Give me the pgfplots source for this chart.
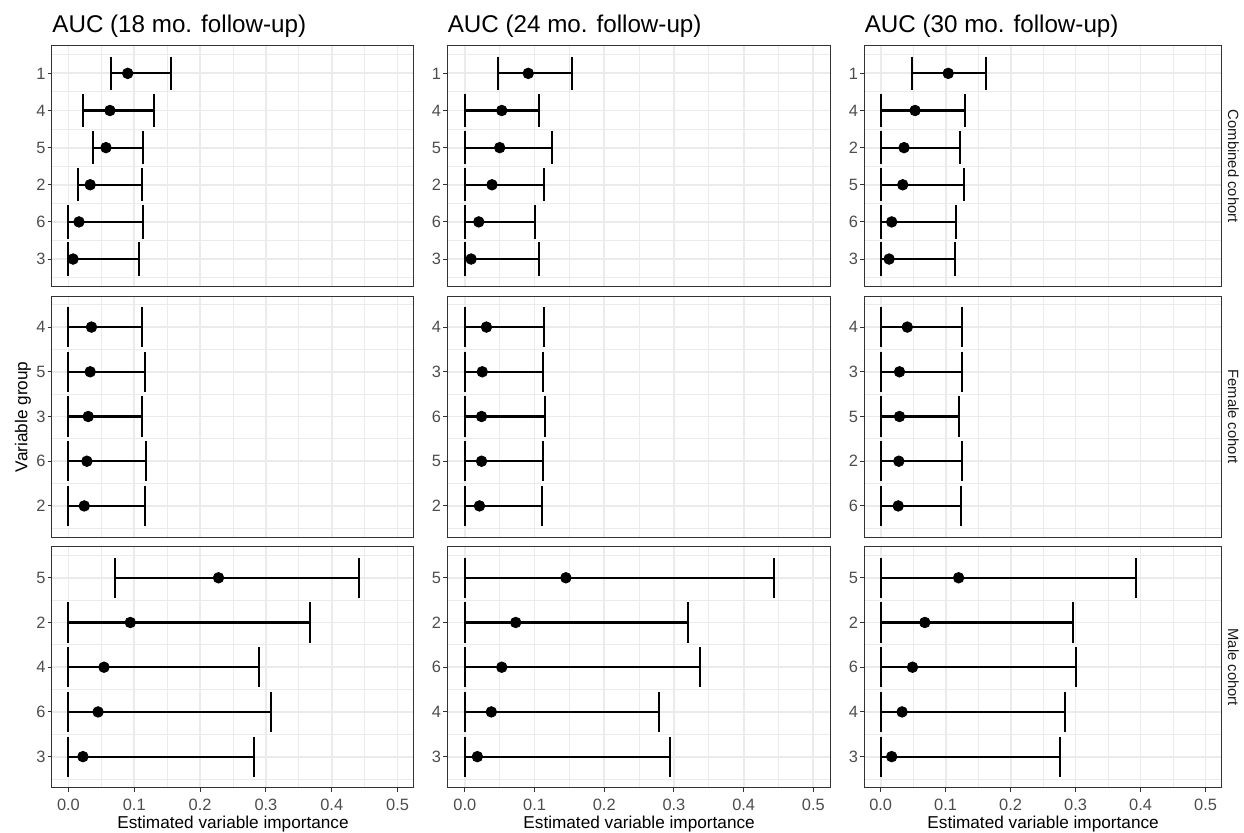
\documentclass[border=0pt]{standalone}
\usepackage{fontspec}
\setmainfont{Liberation Sans}
\usepackage{pgfplots}
\usepackage{pgfplotstable}
\pgfplotsset{compat=1.18}
\definecolor{grey92}{HTML}{EBEBEB}
\definecolor{grey30}{HTML}{4D4D4D}
\definecolor{grey20}{HTML}{333333}
\definecolor{grey10}{HTML}{1A1A1A}

% columns: y est lo hi  (y = position from bottom)
\pgfplotstableread{
y est lo hi
6 0.090 0.065 0.156
5 0.063 0.022 0.130
4 0.057 0.037 0.114
3 0.033 0.015 0.111
2 0.016 0.000 0.113
1 0.007 0.000 0.107
}\tAa
\pgfplotstableread{
y est lo hi
5 0.035 0 0.111
4 0.033 0 0.117
3 0.030 0 0.111
2 0.028 0 0.118
1 0.024 0 0.116
}\tAb
\pgfplotstableread{
y est lo hi
5 0.228 0.070 0.441
4 0.094 0 0.367
3 0.054 0 0.290
2 0.045 0 0.307
1 0.022 0 0.282
}\tAc
\pgfplotstableread{
y est lo hi
6 0.091 0.047 0.154
5 0.053 0 0.107
4 0.050 0 0.125
3 0.039 0 0.114
2 0.020 0 0.101
1 0.009 0 0.106
}\tBa
\pgfplotstableread{
y est lo hi
5 0.031 0 0.114
4 0.025 0 0.112
3 0.024 0 0.115
2 0.024 0 0.112
1 0.021 0 0.111
}\tBb
\pgfplotstableread{
y est lo hi
5 0.145 0 0.443
4 0.073 0 0.320
3 0.053 0 0.338
2 0.038 0 0.278
1 0.018 0 0.294
}\tBc
\pgfplotstableread{
y est lo hi
6 0.104 0.048 0.162
5 0.053 0 0.130
4 0.036 0 0.122
3 0.034 0 0.129
2 0.017 0 0.116
1 0.013 0 0.114
}\tCa
\pgfplotstableread{
y est lo hi
5 0.041 0 0.125
4 0.029 0 0.125
3 0.029 0 0.120
2 0.028 0 0.125
1 0.027 0 0.124
}\tCb
\pgfplotstableread{
y est lo hi
5 0.120 0 0.393
4 0.068 0 0.296
3 0.049 0 0.301
2 0.033 0 0.283
1 0.017 0 0.276
}\tCc

\newcommand{\panelplots}[2]{%
  \addplot[black, only marks, mark=*, mark size=2.65pt,
    error bars/.cd, x dir=both, x explicit, error mark=none,
    error bar style={line width=1.05pt, black}]
    table[x=est, y=y, x error plus expr=\thisrow{hi}-\thisrow{est},
          x error minus expr=\thisrow{est}-\thisrow{lo}] {#1};
  \addplot[black, only marks, mark=|, mark size=#2, mark options={line width=1.0pt}]
    table[x=lo, y=y] {#1};
  \addplot[black, only marks, mark=|, mark size=#2, mark options={line width=1.0pt}]
    table[x=hi, y=y] {#1};
}

\pgfplotsset{
  panel/.style={
    scale only axis, anchor=north west, height=120.5pt,
    xmin=-0.025, xmax=0.525,
    xtick={0,0.1,0.2,0.3,0.4,0.5},
    minor xtick={0.05,0.15,0.25,0.35,0.45},
    grid=both,
    major grid style={grey92, line width=0.9pt},
    minor grid style={grey92, line width=0.45pt},
    axis line style={grey20, line width=0.5pt},
    tick align=outside, major tick length=2.2pt, minor tick length=0pt,
    tick style={grey20, line width=0.5pt},
    xtick pos=bottom, ytick pos=left,
    ticklabel style={font=\fontsize{8.2}{9}\selectfont, text=grey30},
    yticklabel style={inner sep=0pt, xshift=-0.8pt},
    /pgf/number format/.cd, fixed, fixed zerofill, precision=1, assume math mode=true,
  },
  inner/.style={xticklabels={}, xtick style={draw=none}},
  six/.style={ymin=0.255, ymax=6.745, ytick={1,2,3,4,5,6}, minor ytick={0.5,1.5,2.5,3.5,4.5,5.5,6.5}},
  five/.style={ymin=0.305, ymax=5.695, ytick={1,2,3,4,5}, minor ytick={0.5,1.5,2.5,3.5,4.5,5.5}},
}

\begin{document}
\begin{tikzpicture}
\useasboundingbox (0,0) rectangle (622pt,-416pt);

% Column 1
\begin{axis}[panel, six, inner, at={(26pt,-22.85pt)}, width=181pt, yticklabels={3,6,2,5,4,1}]
\panelplots{\tAa}{8.36pt}
\end{axis}
\begin{axis}[panel, five, inner, at={(26pt,-148pt)}, width=181pt, yticklabels={2,6,3,5,4}]
\panelplots{\tAb}{10.06pt}
\end{axis}
\begin{axis}[panel, five, at={(26pt,-273.35pt)}, width=181pt, yticklabels={3,6,4,2,5}]
\panelplots{\tAc}{10.06pt}
\end{axis}

% Column 2
\begin{axis}[panel, six, inner, at={(223.7pt,-22.85pt)}, width=191.7pt, yticklabels={3,6,2,5,4,1}]
\panelplots{\tBa}{8.36pt}
\end{axis}
\begin{axis}[panel, five, inner, at={(223.7pt,-148pt)}, width=191.7pt, yticklabels={2,5,6,3,4}]
\panelplots{\tBb}{10.06pt}
\end{axis}
\begin{axis}[panel, five, at={(223.7pt,-273.35pt)}, width=191.7pt, yticklabels={3,4,6,2,5}]
\panelplots{\tBc}{10.06pt}
\end{axis}

% Column 3
\begin{axis}[panel, six, inner, at={(432.2pt,-22.85pt)}, width=178.7pt, yticklabels={3,6,5,2,4,1}]
\panelplots{\tCa}{8.36pt}
\end{axis}
\begin{axis}[panel, five, inner, at={(432.2pt,-148pt)}, width=178.7pt, yticklabels={6,2,5,3,4}]
\panelplots{\tCb}{10.06pt}
\end{axis}
\begin{axis}[panel, five, at={(432.2pt,-273.35pt)}, width=178.7pt, yticklabels={3,4,6,2,5}]
\panelplots{\tCc}{10.06pt}
\end{axis}

% Titles
\begin{scope}[every node/.style={inner sep=0pt, font=\fontsize{12.1}{14}\selectfont}]
\node[anchor=base west] at (26pt,-16.2pt) {AUC (18 mo. follow-up)};
\node[anchor=base west] at (223.7pt,-16.2pt) {AUC (24 mo. follow-up)};
\node[anchor=base west] at (432.2pt,-16.2pt) {AUC (30 mo. follow-up)};
\end{scope}
% x labels
\begin{scope}[every node/.style={inner sep=0pt, font=\fontsize{8.6}{10}\selectfont}]
\node[anchor=base] at (116.5pt,-414.2pt) {Estimated variable importance};
\node[anchor=base] at (319.55pt,-414.2pt) {Estimated variable importance};
\node[anchor=base] at (521.55pt,-414.2pt) {Estimated variable importance};
\node[anchor=base, rotate=90] at (13.7pt,-208.4pt) {Variable group};
\end{scope}
% strip labels
\begin{scope}[every node/.style={inner sep=0pt, font=\fontsize{7.4}{9}\selectfont, text=grey10}]
\node[anchor=base, rotate=-90] at (614pt,-83.1pt) {Combined cohort};
\node[anchor=base, rotate=-90] at (614pt,-208.4pt) {Female cohort};
\node[anchor=base, rotate=-90] at (614pt,-333.6pt) {Male cohort};
\end{scope}
\end{tikzpicture}
\end{document}
